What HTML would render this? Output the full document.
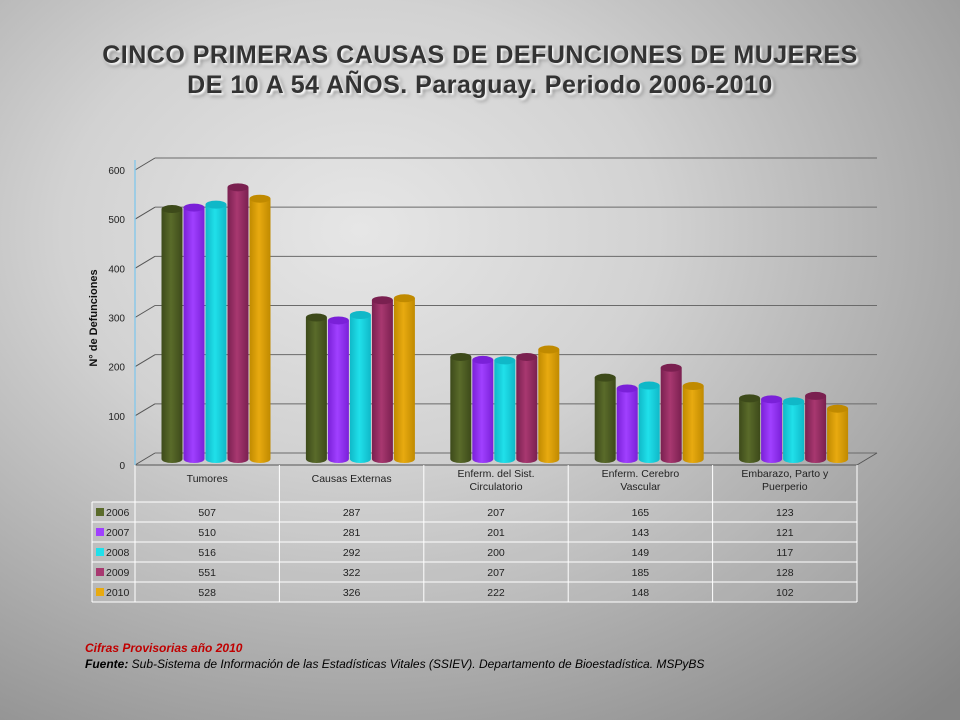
<!DOCTYPE html>
<html><head><meta charset="utf-8"><style>
html,body{margin:0;padding:0}
body{width:960px;height:720px;overflow:hidden;position:relative;font-family:"Liberation Sans",sans-serif;
background:radial-gradient(ellipse 850px 650px at 360px 230px,#e6e6e6 0%,#d2d2d2 35%,#a6a6a6 72%,#858585 100%);}
#title{position:absolute;left:0;top:40px;width:960px;text-align:center;font-weight:bold;font-size:25px;line-height:30px;color:#333;letter-spacing:0.5px;text-shadow:2px 2px 2px #fff,3px 3px 4px rgba(0,0,0,0.4)}
#note{position:absolute;left:85px;top:640px;font-size:12px;font-style:italic;line-height:16px}
</style></head><body>
<div id="title">CINCO PRIMERAS CAUSAS DE DEFUNCIONES DE MUJERES<br>DE 10 A 54 AÑOS. Paraguay. Periodo 2006-2010</div>
<svg id="chart" width="960" height="720" style="position:absolute;left:0;top:0">
<defs></defs>
<g id="grid"></g><g id="bars"></g><g id="axis"></g><g id="table"></g>
</svg>
<div id="note"><span style="color:#c00000;font-weight:bold">Cifras Provisorias año 2010</span><br><b>Fuente:</b> Sub-Sistema de Información de las Estadísticas Vitales (SSIEV). Departamento de Bioestadística. MSPyBS</div>
<script>
const categories=["Tumores","Causas Externas","Enferm. del Sist.|Circulatorio","Enferm. Cerebro|Vascular","Embarazo, Parto y|Puerperio"];
const years=["2006","2007","2008","2009","2010"];
const v2006=[507,287,207,165,123];
const v2007=[510,281,201,143,121];
const v2008=[516,292,200,149,117];
const v2009=[551,322,207,185,128];
const v2010=[528,326,222,148,102];
const series=[v2006,v2007,v2008,v2009,v2010];
const yTicks=[0,100,200,300,400,500,600];
const colors=[["#3d4a1a","#5a6b2a"],["#7a20d8","#a040ff"],["#10b8c8","#20e0ea"],["#7a2050","#a83870"],["#c08a00","#e8aa10"]];
const NS="http://www.w3.org/2000/svg";
const x0=135,x1=857,y0=465,yTop=170,dx=20,dy=-12;
const catW=(x1-x0)/categories.length;
const yS=v=>y0-(v/600)*(y0-yTop);
const bS=v=>459-v*0.493;
function mk(t,a,p){const e=document.createElementNS(NS,t);for(const k in a)e.setAttribute(k,a[k]);p.appendChild(e);return e;}
const defs=document.querySelector('defs');
colors.forEach((c,i)=>{const g=mk('linearGradient',{id:'g'+i,x1:0,x2:1,y1:0,y2:0},defs);
mk('stop',{offset:'0','stop-color':c[0]},g);mk('stop',{offset:'0.45','stop-color':c[1]},g);mk('stop',{offset:'1','stop-color':c[0]},g);});
const grid=document.getElementById('grid'),axis=document.getElementById('axis'),bars=document.getElementById('bars'),tb=document.getElementById('table');
yTicks.forEach(t=>{const y=yS(t);
let l=mk('line',{x1:x0,y1:y,x2:x0+dx,y2:y+dy,stroke:'#555','stroke-width':1},grid);
let l2=mk('line',{x1:x0+dx,y1:y+dy,x2:x1+dx,y2:y+dy,stroke:'#6a6a6a','stroke-width':1},grid);
let tx=mk('text',{x:125,y:y+4,'text-anchor':'end','font-size':10,fill:'#222'},axis);tx.textContent=t;});
mk('line',{x1:x0,y1:y0,x2:x0,y2:yTop-10,stroke:'#8cc8e8','stroke-width':1.5},axis);
mk('line',{x1:x1,y1:y0,x2:x1+dx,y2:y0+dy,stroke:'#555'},grid);
mk('line',{x1:x0,y1:y0,x2:x1,y2:y0,stroke:'#555'},grid);
let yt=mk('text',{x:97,y:318,transform:'rotate(-90 97 318)','text-anchor':'middle','font-size':11,'font-weight':'bold',fill:'#111'},axis);yt.textContent='N° de Defunciones';
const bw=21,ry=4;
categories.forEach((c,ci)=>{series.forEach((s,si)=>{const cx=x0+ci*catW+37+si*22,top=bS(s[ci]),bot=459;
const g=mk('g',{},bars);
mk('path',{d:`M${cx-bw/2},${top} L${cx-bw/2},${bot} A${bw/2},${ry} 0 0 0 ${cx+bw/2},${bot} L${cx+bw/2},${top} Z`,fill:`url(#g${si})`},g);
mk('ellipse',{cx:cx,cy:top,rx:bw/2,ry:ry,fill:colors[si][0]},g);});});
const rowY=[502,522,542,562,582,602];
mk('rect',{x:92,y:502,width:x1-92,height:100,fill:'rgba(255,255,255,0.1)'},tb);
for(let i=0;i<=categories.length;i++){const x=x0+i*catW;mk('line',{x1:x,y1:465,x2:x,y2:602,stroke:'#fff','stroke-width':1},tb);}
mk('line',{x1:92,y1:502,x2:92,y2:602,stroke:'#fff'},tb);
rowY.forEach(y=>mk('line',{x1:92,y1:y,x2:x1,y2:y,stroke:'#fff'},tb));
categories.forEach((c,ci)=>{const parts=c.split('|');const cx=x0+ci*catW+catW/2;
parts.forEach((p,pi)=>{const ty=parts.length==1?482:477+pi*13;
let t=mk('text',{x:cx,y:ty,'text-anchor':'middle','font-size':10.5,fill:'#222'},tb);t.textContent=p;});});
years.forEach((yr,si)=>{const y=rowY[si]+14;
mk('rect',{x:96,y:rowY[si]+6,width:8,height:8,fill:colors[si][1]},tb);
let t=mk('text',{x:106,y:y,'font-size':10.5,fill:'#222'},tb);t.textContent=yr;
series[si].forEach((v,ci)=>{let tv=mk('text',{x:x0+ci*catW+catW/2,y:y,'text-anchor':'middle','font-size':10.5,fill:'#222'},tb);tv.textContent=v;});});
</script>
</body></html>
